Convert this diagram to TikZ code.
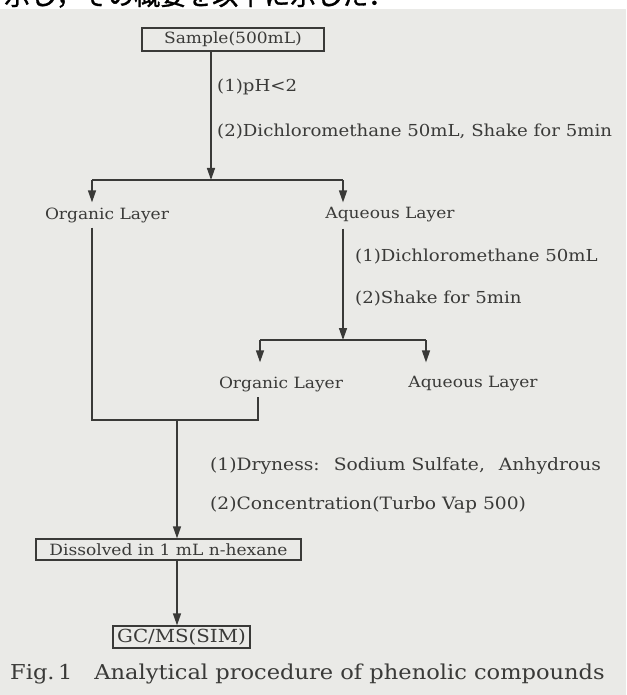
\documentclass[tikz,border=0pt]{standalone}
\usepackage{fontspec}
\setmainfont{DejaVu Serif}[FakeStretch=1.1]
\newfontfamily\cjk{Noto Sans CJK JP}[FakeBold=1.2]
\usetikzlibrary{arrows.meta,calc}
\definecolor{paper}{RGB}{234,234,231}
\definecolor{ink}{RGB}{58,58,56}
\begin{document}
\begin{tikzpicture}[x=1pt,y=-1pt,
  box/.style={draw=ink, line width=1.3pt, text=ink, font=\fontsize{15.5}{18}\selectfont, inner sep=0pt},
  lay/.style={text=ink, font=\fontsize{15.5}{18}\selectfont, inner sep=0pt},
  lab/.style={text=ink, font=\fontsize{16.5}{19}\selectfont, inner sep=0pt, anchor=west},
  wire/.style={draw=ink, line width=1.4pt},
  arr/.style={wire, -{Triangle[length=12pt,width=8pt]}}
]
\clip (0,0) rectangle (626,695);
\fill[white] (0,0) rectangle (626,10);
\fill[paper] (0,9) rectangle (626,695);
\node[anchor=base west, inner sep=0pt, font=\cjk\fontsize{26}{30}\selectfont] (jp) at (4,5) {示し，その概要を以下に示した．};

% nodes
\node[box, minimum width=182pt, minimum height=23pt] (sample) at (233,39.5) {Sample(500mL)};
\node[lay] (org1) at (107,215) {Organic Layer};
\node[lay] (aq1) at (390,215) {Aqueous Layer};
\node[lay] (org2) at (281,384) {Organic Layer};
\node[lay] (aq2) at (473,384) {Aqueous Layer};
\node[box, minimum width=265pt, minimum height=21pt] (diss) at (168.5,549.5) {Dissolved in 1 mL n-hexane};
\node[box, minimum width=137pt, minimum height=22pt, font=\fontsize{18}{21}\selectfont] (gc) at (181.5,637) {GC/MS(SIM)};

% labels
\node[lab] (s1) at (217,87) {(1)pH<2};
\node[lab] (s2) at (217,132) {(2)Dichloromethane 50mL, Shake for 5min};
\node[lab] (a1) at (355,257) {(1)Dichloromethane 50mL};
\node[lab] (a2) at (355,299) {(2)Shake for 5min};
\node[lab, font=\fontsize{17}{20}\selectfont] (d1) at (210,466) {(1)Dryness:\hspace{14pt}Sodium Sulfate,\hspace{14pt}Anhydrous};
\node[lab, font=\fontsize{17}{20}\selectfont] (d2) at (210,505) {(2)Concentration(Turbo Vap 500)};
\node[anchor=west, text=ink, font=\fontsize{20.5}{24}\selectfont, inner sep=0pt] (cap) at (10,674) {Fig.\,1\hspace{22pt}Analytical procedure of phenolic compounds};

% junction coordinates
\coordinate (b1) at (211,180);
\coordinate (l1) at (92,180);
\coordinate (r1) at (343,180);
\coordinate (b2) at (343,340);
\coordinate (l2) at (260,340);
\coordinate (r2) at (426,340);
\coordinate (j1) at (92,420);
\coordinate (j2) at (258,420);
\coordinate (j3) at (177,420);

% connectors
\draw[arr] (b1 |- sample.south) -- (b1);
\draw[wire] (l1) -- (r1);
\draw[arr] (l1) -- ($(l1 |- org1.north)+(0,-5)$);
\draw[arr] (r1) -- ($(r1 |- aq1.north)+(0,-5)$);
\draw[arr] ($(r1 |- aq1.south)+(0,6)$) -- (b2);
\draw[wire] (l2) -- (r2);
\draw[arr] (l2) -- ($(l2 |- org2.north)+(0,-14)$);
\draw[arr] (r2) -- ($(r2 |- aq2.north)+(0,-14)$);
\draw[wire] ($(l1 |- org1.south)+(0,5)$) -- (j1) -- (j2) -- ($(j2 |- org2.south)+(0,5)$);
\draw[arr] (j3) -- (j3 |- diss.north);
\draw[arr] (j3 |- diss.south) -- (j3 |- gc.north);
\end{tikzpicture}
\end{document}
